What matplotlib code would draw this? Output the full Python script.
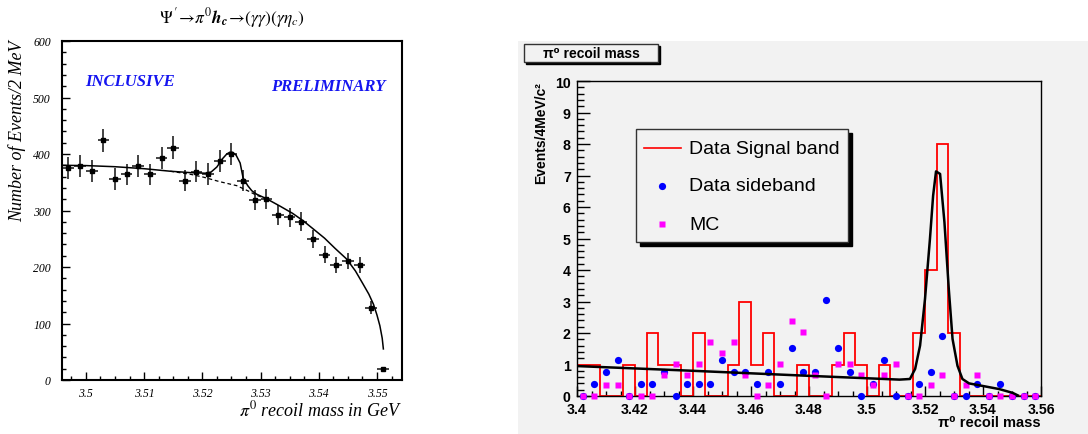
import numpy as np
import matplotlib
matplotlib.use('Agg')
import matplotlib.pyplot as plt
from matplotlib.patches import Rectangle
from matplotlib.ticker import MultipleLocator

plt.rcParams['mathtext.fontset'] = 'stix'

# ---------------- left panel data ----------------
left_bin_lo = 3.496
left_bin_w = 0.002
left_counts = [376, 379, 370, 424, 356, 364, 379, 364, 393, 411, 353, 369, 365, 387,
               400, 353, 318, 321, 292, 288, 280, 250, 222, 204, 211, 204, 128, 19]
left_err = [19.4, 19.5, 19.2, 20.6, 18.9, 19.1, 19.5, 19.1, 19.8, 20.3, 18.8, 19.2, 19.1, 19.7,
            20.0, 18.8, 17.8, 17.9, 17.1, 17.0, 16.7, 15.8, 14.9, 14.3, 14.5, 14.3, 11.3, 4.4]
fit_x = [3.4959, 3.500, 3.505, 3.510, 3.5145, 3.518, 3.5205, 3.5215, 3.5225, 3.5235, 3.5242,
         3.5247, 3.5252, 3.5258, 3.5265, 3.527, 3.5278, 3.5285, 3.5293, 3.531, 3.5333,
         3.5355, 3.5373, 3.5391, 3.541, 3.5428, 3.5448, 3.5463, 3.5476, 3.5486, 3.5494,
         3.5500, 3.5505, 3.5509, 3.5511]
fit_y = [380, 379.5, 377.5, 374, 369.5, 367, 366, 368, 377, 392, 400,
         403, 403, 398, 384, 358, 344, 335, 329, 321, 308,
         295, 282, 267, 251, 233, 214, 193, 170, 152, 134,
         115, 96, 74, 55]
bkg_x = [3.5145, 3.518, 3.5202, 3.523, 3.5259, 3.528, 3.5293, 3.531]
bkg_y = [369.5, 364, 359, 351, 344, 334, 327, 321]

# ---------------- right panel data ----------------
right_bin_lo = 3.40
right_bin_w = 0.004
signal_band = [1, 1, 0, 0, 1, 0, 2, 1, 1, 0, 2, 0, 0, 1, 3, 1, 2, 0, 0, 1,
               0, 0, 1, 2, 1, 0, 1, 0, 0, 2, 4, 8, 2, 0, 0, 0, 0, 0, 0, 0]
sideband = [0, 0.38, 0.76, 1.14, 0, 0.38, 0.38, 0.76, 0, 0.38, 0.38, 0.38, 1.14, 0.76,
            0.76, 0.38, 0.76, 0.38, 1.52, 0.76, 0.76, 3.06, 1.52, 0.76, 0, 0.38, 1.14, 0,
            0, 0.38, 0.76, 1.90, 0, 0, 0.38, 0, 0.38, 0, 0, 0]
mc = [0, 0, 0.34, 0.34, 0, 0, 0, 0.68, 1.02, 0.68, 1.02, 1.70, 1.36, 1.70,
      0.68, 0, 0.34, 1.02, 2.38, 2.04, 0.68, 0, 1.02, 1.02, 0.68, 0.34, 0.68, 1.02,
      0, 0, 0.34, 0.68, 0, 0.34, 0.68, 0, 0, 0, 0, 0]
rfit_x = [3.400, 3.440, 3.480, 3.5112, 3.5148, 3.5166, 3.5183, 3.520, 3.5217, 3.5228,
          3.5238, 3.5252, 3.5267, 3.5282, 3.5295, 3.5312, 3.5329, 3.5352, 3.5456,
          3.5502, 3.552]
rfit_y = [0.95, 0.80, 0.64, 0.52, 0.54, 0.86, 1.6, 3.08, 4.98, 6.36,
          7.13, 7.05, 5.52, 3.4, 1.81, 0.96, 0.54, 0.40, 0.22,
          0.10, 0.02]

W, H = 1088, 435
fig = plt.figure(figsize=(W / 100, H / 100), dpi=100)
fig.patch.set_facecolor('white')


def fx(px):
    return px / W


def fy(py):
    return 1 - py / H


GRAY = '#f2f2f2'
fig.patches.append(Rectangle((fx(518), 0), 1 - fx(518), fy(42), transform=fig.transFigure,
                             facecolor=GRAY, edgecolor='none', zorder=-10))

SERIF = 'Liberation Serif'
SANS = ['Liberation Sans', 'DejaVu Sans']

# ================= LEFT PANEL =================
axL = fig.add_axes([fx(62), fy(381), fx(402) - fx(62), fy(42) - fy(381)])
centers = left_bin_lo + left_bin_w * (np.arange(len(left_counts)) + 0.5)
axL.errorbar(centers, left_counts, yerr=left_err, xerr=left_bin_w / 2, fmt='s', ms=2.6,
             color='black', ecolor='#111111', elinewidth=1.1, capsize=0, zorder=3)
axL.plot(fit_x, fit_y, color='black', lw=1.1, zorder=4)
axL.plot(bkg_x, bkg_y, color='black', lw=0.9, ls=(0, (3, 2.2)), zorder=4)
axL.set_xlim(3.4959, 3.5543)
axL.set_ylim(0, 600)
for s in axL.spines.values():
    s.set_linewidth(1.5)

xt = np.round(np.arange(3.50, 3.5501, 0.01), 2)
axL.set_xticks(xt, [f'{v:g}' for v in xt], fontstyle='italic', fontfamily=SERIF, fontsize=8.5)
yt = np.arange(0, 601, 100)
axL.set_yticks(yt, [f'{v:g}' for v in yt], fontstyle='italic', fontfamily=SERIF, fontsize=8.5)
axL.xaxis.set_minor_locator(MultipleLocator(0.0025))
axL.yaxis.set_minor_locator(MultipleLocator(20))
axL.tick_params(which='both', direction='in', top=False, right=False, width=1)
axL.tick_params(axis='x', which='major', length=5.5, pad=5)
axL.tick_params(axis='x', which='minor', length=3)
axL.tick_params(axis='y', which='major', length=5.5, pad=8)
axL.tick_params(axis='y', which='minor', length=3)

axL.text(3.4998, 529, 'INCLUSIVE', ha='left', va='center', color='#1515f0', fontsize=12,
         fontweight='bold', fontstyle='italic', fontfamily=SERIF)
axL.text(3.5514, 520, 'PRELIMINARY', ha='right', va='center', color='#1515f0', fontsize=12,
         fontweight='bold', fontstyle='italic', fontfamily=SERIF)

fig.text(fx(232), fy(18),
         r'$\Psi^{\,\prime}\!\rightarrow\!\pi^{0}\mathbfit{h}_{\mathbfit{c}}\!\rightarrow\!(\gamma\gamma)(\gamma\eta_{c})$',
         ha='center', va='center', fontsize=12.5)
fig.text(fx(17), fy(40), 'Number of Events/2 MeV', rotation=90, ha='center', va='top',
         fontsize=13, fontstyle='italic', fontfamily=SERIF)
fig.text(fx(402), fy(410), r'$\pi^{0}$ recoil mass in GeV', ha='right', va='center',
         fontsize=13, fontstyle='italic', fontfamily=SERIF)

# ================= RIGHT PANEL =================
axR = fig.add_axes([fx(577), fy(397), fx(1041) - fx(577), fy(82) - fy(397)])
axR.set_facecolor(GRAY)
edges = right_bin_lo + right_bin_w * np.arange(len(signal_band) + 1)
cen = edges[:-1] + right_bin_w / 2
axR.stairs(signal_band, edges, color='red', lw=1.3, baseline=0, zorder=2)
axR.plot(cen, sideband, 'o', color='#0000ff', ms=5.2, mec='none', zorder=3, clip_on=False)
axR.plot(cen, mc, 's', color='#ff00ff', ms=4.8, mec='none', zorder=4, clip_on=False)
axR.plot(rfit_x, rfit_y, color='black', lw=1.8, zorder=5)
axR.set_xlim(3.40, 3.56)
axR.set_ylim(0, 10)
for s in axR.spines.values():
    s.set_linewidth(1.0)

rxt = np.round(np.arange(3.40, 3.5601, 0.02), 2)
axR.set_xticks(rxt, [f'{v:g}' for v in rxt], fontweight='bold', fontfamily=SANS, fontsize=10.2)
ryt = np.arange(0, 11, 1)
axR.set_yticks(ryt, [f'{v:g}' for v in ryt], fontweight='bold', fontfamily=SANS, fontsize=10.2)
axR.xaxis.set_minor_locator(MultipleLocator(0.005))
axR.yaxis.set_minor_locator(MultipleLocator(0.2))
axR.tick_params(which='both', direction='in', top=False, right=False, width=1)
axR.tick_params(axis='x', which='major', length=7, pad=4.6)
axR.tick_params(axis='x', which='minor', length=3.6)
axR.tick_params(axis='y', which='major', length=9, pad=4.5)
axR.tick_params(axis='y', which='minor', length=5)

# legend (manual, ROOT style with hard shadow)
lx0, ly0, lw_, lh_ = 0.127, 0.489, 0.457, 0.359
axR.add_patch(Rectangle((lx0 + 0.009, ly0 - 0.013), lw_, lh_, transform=axR.transAxes,
                        facecolor='black', edgecolor='black', zorder=6, clip_on=False))
axR.add_patch(Rectangle((lx0, ly0), lw_, lh_, transform=axR.transAxes,
                        facecolor=GRAY, edgecolor='#333333', lw=1.0, zorder=7, clip_on=False))
axR.plot([0.144, 0.224], [0.787, 0.787], transform=axR.transAxes, color='red', lw=1.2, zorder=8)
axR.plot([0.183], [0.667], 'o', transform=axR.transAxes, color='#0000ff', ms=5.2, mec='none', zorder=8)
axR.plot([0.183], [0.546], 's', transform=axR.transAxes, color='#ff00ff', ms=4.8, mec='none', zorder=8)
for ty, lab in [(0.787, 'Data Signal band'), (0.667, 'Data sideband'), (0.546, 'MC')]:
    axR.text(0.2414, ty, lab, transform=axR.transAxes, ha='left', va='center',
             fontsize=14, fontfamily=SANS, zorder=8)

# title box
fig.patches.append(Rectangle((fx(526), fy(64.5)), fx(134), 17.7 / H, transform=fig.transFigure,
                             facecolor='black', edgecolor='black', zorder=5))
fig.patches.append(Rectangle((fx(524), fy(62.7)), fx(134), 17.7 / H, transform=fig.transFigure,
                             facecolor=GRAY, edgecolor='#333333', lw=1.0, zorder=6))
fig.text(fx(591), fy(53.8), 'π⁰ recoil mass', ha='center', va='center', fontsize=10,
         fontweight='bold', fontfamily=SANS, zorder=7)

fig.text(fx(541), fy(82), 'Events/4MeV/c²', rotation=90, ha='center', va='top',
         fontsize=10, fontweight='bold', fontfamily=SANS)
fig.text(fx(1041), fy(423), 'π⁰ recoil mass', ha='right', va='center', fontsize=10.5,
         fontweight='bold', fontfamily=SANS)

fig.savefig('out.png', dpi=100, facecolor=fig.get_facecolor())
